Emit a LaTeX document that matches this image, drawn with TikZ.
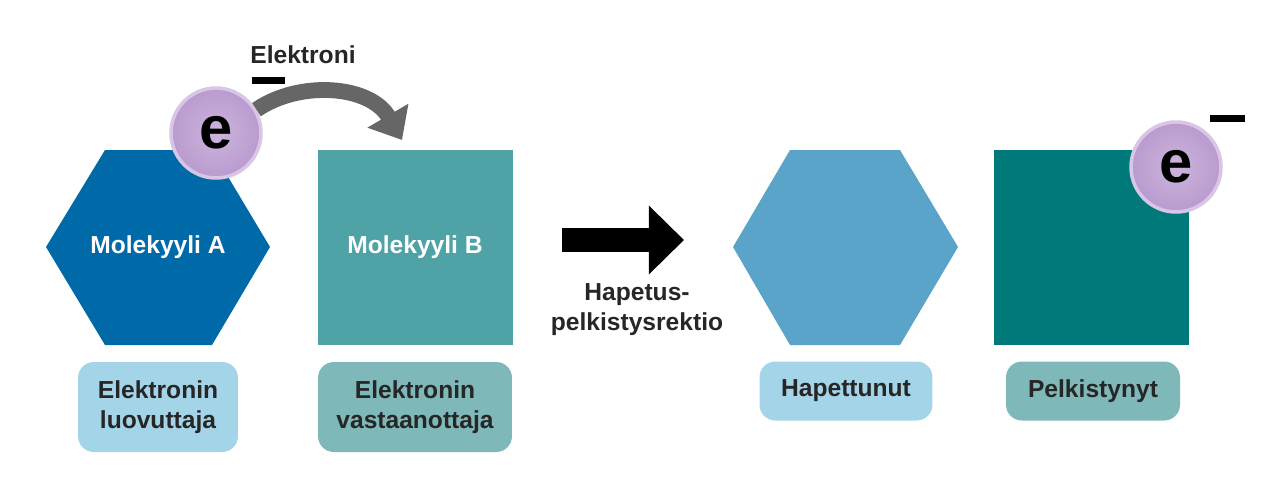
\documentclass[tikz,border=0pt]{standalone}
\usepackage{fontspec}
\setmainfont{Liberation Sans}
\usetikzlibrary{arrows.meta, positioning}
\definecolor{hexA}{HTML}{006AA8}
\definecolor{sqB}{HTML}{4FA2A6}
\definecolor{hexC}{HTML}{5AA3C9}
\definecolor{sqD}{HTML}{00797B}
\definecolor{boxlight}{HTML}{A4D4E8}
\definecolor{boxteal}{HTML}{7FB8B8}
\definecolor{elec}{HTML}{B99BCF}
\definecolor{elecrim}{HTML}{D9C6E6}
\tikzset{
    txt/.style={font=\bfseries\fontsize{14}{17}\selectfont, text=black!85, align=center},
    molbox/.style={txt, rounded corners=9pt, minimum width=#1, minimum height=1.8cm},
    smallbox/.style={txt, rounded corners=9pt, minimum width=#1, minimum height=1.18cm},
    electron/.style={circle, minimum size=1.8cm, inner sep=0pt, draw=elecrim, line width=2pt,
        inner color=elecrim!60!elec, outer color=elec, font=\bfseries\fontsize{34}{34}\selectfont},
    minusbar/.style={fill=black}
}
\begin{document}
\begin{tikzpicture}[x=0.02cm, y=-0.02cm]
    \useasboundingbox (0,0) rectangle (1280,501);

    % Left side: before the reaction
    \fill[hexA] (46,247) -- (105,150) -- (212,150) -- (270,247) -- (212,345) -- (105,345) -- cycle;
    \node[txt, text=white] (molA) at (158,247) {Molekyyli A};
    \fill[sqB] (318,150) rectangle (513,345);
    \node[txt, text=white] (molB) at (415,247) {Molekyyli B};

    \node[electron] (eA) at (216,133) {e};
    \fill[minusbar] (252,77) rectangle (285,84);
    \node[txt] (elektroni) at (303,55) {Elektroni};

    % Electron jump
    \coordinate (jumpend) at (402,140);
    \draw[line width=9pt, black!60, -{Triangle[length=16pt, width=26pt]}]
        (eA.30) .. controls (300,80) and (370,85) .. (jumpend);

    \node[fill=boxlight, molbox=3.2cm] (donor) at (158,407) {Elektronin\\luovuttaja};
    \node[fill=boxteal, molbox=3.88cm] (acceptor) at (415,407) {Elektronin\\vastaanottaja};

    % Reaction arrow
    \coordinate (rstart) at (562,240);
    \coordinate (rend) at (684,240);
    \draw[line width=14pt, -{Triangle[length=20pt, width=38pt]}] (rstart) -- (rend);
    \node[txt] (reaction) at (637,310) {Hapetus-\\pelkistysrektio};

    % Right side: after the reaction
    \fill[hexC] (733,247) -- (790,150) -- (900,150) -- (958,247) -- (900,345) -- (790,345) -- cycle;
    \fill[sqD] (994,150) rectangle (1189,345);
    \node[electron] (eD) at (1176,167) {e};
    \fill[minusbar] (1210,115) rectangle (1245,122);

    \node[fill=boxlight, smallbox=3.46cm] (oxid) at (846,391) {Hapettunut};
    \node[fill=boxteal, smallbox=3.48cm] (red) at (1093,391) {Pelkistynyt};
\end{tikzpicture}
\end{document}
